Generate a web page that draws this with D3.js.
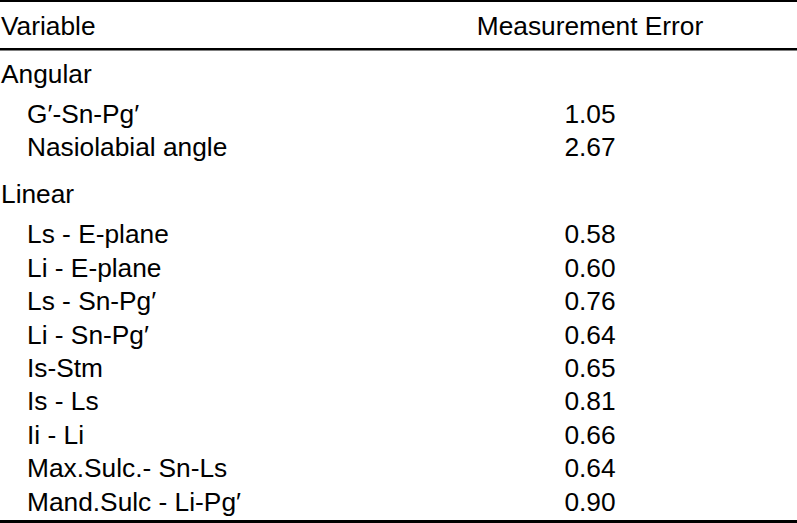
<!DOCTYPE html>
<html>
<head>
<meta charset="utf-8">
<script src="https://cdn.jsdelivr.net/npm/d3@7"></script>
<style>
  html, body { margin: 0; padding: 0; background: #ffffff; }
  svg { display: block; }
  text { font-family: "Liberation Sans", Arial, Helvetica, sans-serif; fill: #000; }
</style>
</head>
<body>
<div id="chart"></div>
<script>
// ---- data ----
const columnHeaders = ["Variable", "Measurement Error"];
const sectionNames = ["Angular", "Linear"];
const angularVariables = ["G\u2032-Sn-Pg\u2032", "Nasiolabial angle"];
const angularErrors = ["1.05", "2.67"];
const linearVariables = ["Ls - E-plane", "Li - E-plane", "Ls - Sn-Pg\u2032", "Li - Sn-Pg\u2032",
  "Is-Stm", "Is - Ls", "Ii - Li", "Max.Sulc.- Sn-Ls", "Mand.Sulc - Li-Pg\u2032"];
const linearErrors = ["0.58", "0.60", "0.76", "0.64", "0.65", "0.81", "0.66", "0.64", "0.90"];

// ---- layout ----
const W = 797, H = 523;
const fontSize = 26.3;
const svg = d3.select("#chart").append("svg").attr("width", W).attr("height", H);

// build flat row list with row units
const groups = [
  { name: sectionNames[0], vars: angularVariables, vals: angularErrors },
  { name: sectionNames[1], vars: linearVariables, vals: linearErrors }
];
const rows = [];
let u = 0;
groups.forEach((g, gi) => {
  if (gi > 0) u += 1.4;
  rows.push({ type: "section", label: g.name, unit: u });
  g.vars.forEach((v, i) => {
    u += (i === 0 ? 1.2 : 1);
    rows.push({ type: "item", label: v, value: g.vals[i], unit: u });
  });
});

const y = d3.scaleLinear().domain([0, 1]).range([83, 83 + 33.4]);
const x = d3.scaleOrdinal().domain(["section", "item", "value"]).range([1, 27, 590]);

// rules
svg.append("rect").attr("x", 0).attr("y", 0).attr("width", W).attr("height", 2).attr("fill", "#000");
svg.append("rect").attr("x", 0).attr("y", 48).attr("width", W).attr("height", 2.5).attr("fill", "#000");
svg.append("rect").attr("x", 0).attr("y", 520).attr("width", W).attr("height", 3).attr("fill", "#000");

// header
svg.append("text").attr("x", x("section")).attr("y", 35).attr("font-size", fontSize).text(columnHeaders[0]);
svg.append("text").attr("x", x("value")).attr("y", 35).attr("font-size", fontSize)
  .attr("text-anchor", "middle").text(columnHeaders[1]);

// rows
const g = svg.append("g");
g.selectAll("text.label").data(rows).join("text")
  .attr("class", "label")
  .attr("x", d => x(d.type))
  .attr("y", d => y(d.unit))
  .attr("font-size", fontSize)
  .text(d => d.label);

g.selectAll("text.value").data(rows.filter(d => d.type === "item")).join("text")
  .attr("class", "value")
  .attr("x", x("value"))
  .attr("y", d => y(d.unit))
  .attr("font-size", fontSize)
  .attr("text-anchor", "middle")
  .text(d => d.value);
</script>
</body>
</html>
